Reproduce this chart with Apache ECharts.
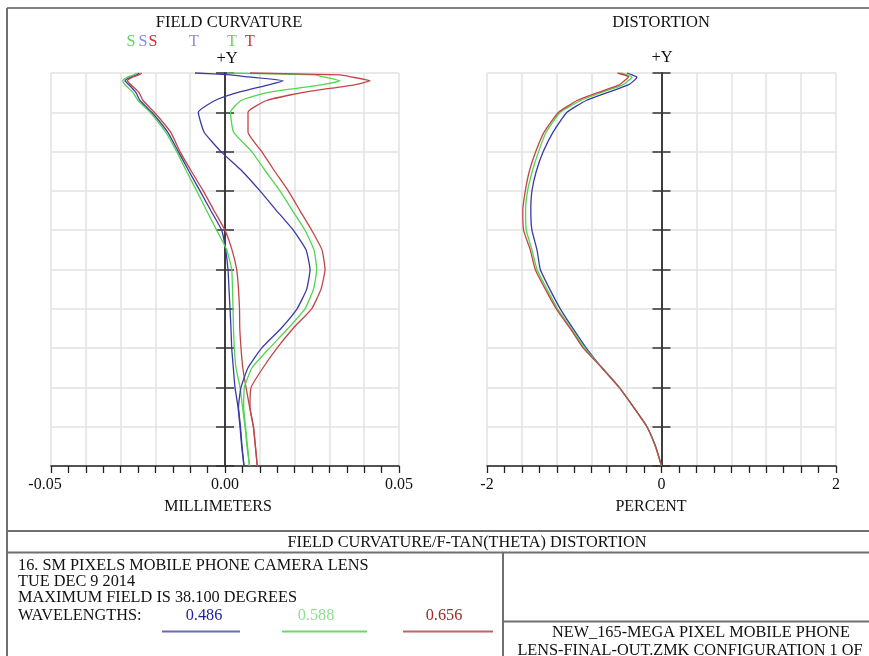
<!DOCTYPE html>
<html>
<head>
<meta charset="utf-8">
<script src="https://cdn.jsdelivr.net/npm/echarts@6/dist/echarts.min.js"></script>
<style>
html,body{margin:0;padding:0;background:#fff;}
#chart{width:869px;height:656px;}
</style>
</head>
<body>
<div id="chart"></div>
<script>
// relative field (0 = axis, 1 = maximum field 38.1 deg)
const fieldRel = [0, 0.05, 0.1, 0.15, 0.2, 0.25, 0.3, 0.35, 0.4, 0.45, 0.5, 0.55, 0.6, 0.65, 0.7, 0.75, 0.8, 0.85, 0.9, 0.93, 0.95, 0.97, 0.98, 0.99, 0.995, 1.0];

// field curvature (mm) - sagittal
const sagBlue  = [0.00546, 0.00480, 0.00431, 0.00374, 0.00287, 0.00239, 0.00193, 0.00172, 0.00144, 0.00115, 0.00086, 0.00020, -0.00095, -0.00408, -0.00718, -0.01034, -0.01342, -0.01652, -0.02106, -0.02443, -0.02557, -0.02759, -0.02874, -0.02701, -0.02543, -0.02463];
const sagGreen = [0.00704, 0.00632, 0.00575, 0.00503, 0.00431, 0.00316, 0.00267, 0.00244, 0.00230, 0.00216, 0.00193, 0.00049, -0.00239, -0.00529, -0.00813, -0.01106, -0.01388, -0.01710, -0.02155, -0.02500, -0.02644, -0.02874, -0.02940, -0.02787, -0.02618, -0.02537];
const sagRed   = [0.00928, 0.00871, 0.00813, 0.00707, 0.00603, 0.00511, 0.00460, 0.00425, 0.00417, 0.00388, 0.00336, 0.00201, 0.00000, -0.00316, -0.00624, -0.00966, -0.01293, -0.01566, -0.02032, -0.02356, -0.02471, -0.02701, -0.02807, -0.02644, -0.02477, -0.02394];
// field curvature (mm) - tangential
const tanBlue  = [0.00546, 0.00489, 0.00445, 0.00388, 0.00460, 0.00661, 0.01052, 0.01609, 0.02069, 0.02348, 0.02443, 0.02328, 0.01963, 0.01480, 0.01006, 0.00494, -0.00115, -0.00603, -0.00767, -0.00287, 0.00351, 0.01259, 0.01675, 0.00670, 0.00164, -0.00862];
const tanGreen = [0.00704, 0.00647, 0.00589, 0.00537, 0.00555, 0.00776, 0.01279, 0.01810, 0.02299, 0.02543, 0.02635, 0.02557, 0.02299, 0.01937, 0.01580, 0.01167, 0.00767, 0.00244, 0.00158, 0.00460, 0.01207, 0.02779, 0.03305, 0.02836, 0.02586, 0.00057];
const tanRed   = [0.00928, 0.00876, 0.00819, 0.00718, 0.00750, 0.01092, 0.01494, 0.01954, 0.02491, 0.02759, 0.02874, 0.02787, 0.02491, 0.02152, 0.01819, 0.01428, 0.01055, 0.00661, 0.00661, 0.01195, 0.02213, 0.03718, 0.04167, 0.03626, 0.03305, 0.00718];

// f-tan(theta) distortion (percent)
const distBlue  = [0, -0.069, -0.167, -0.321, -0.485, -0.683, -0.862, -1.015, -1.160, -1.281, -1.389, -1.427, -1.485, -1.498, -1.485, -1.435, -1.355, -1.241, -1.084, -0.863, -0.622, -0.381, -0.318, -0.282, -0.336, -0.396];
const distGreen = [0, -0.069, -0.167, -0.321, -0.485, -0.683, -0.880, -1.034, -1.191, -1.313, -1.427, -1.485, -1.550, -1.558, -1.535, -1.481, -1.409, -1.321, -1.160, -0.926, -0.691, -0.444, -0.381, -0.339, -0.393, -0.473];
const distRed   = [0, -0.069, -0.167, -0.321, -0.485, -0.683, -0.897, -1.047, -1.206, -1.332, -1.447, -1.504, -1.581, -1.590, -1.561, -1.515, -1.441, -1.344, -1.180, -0.966, -0.731, -0.485, -0.427, -0.378, -0.427, -0.504];

// axis tick labels
const fcTickLabels = [-0.05, 0, 0.05];
const fcTickText = ['-0.05', '0.00', '0.05'];
const distTickLabels = [-2, 0, 2];
const distTickText = ['-2', '0', '2'];

const wavelengths = ['0.486', '0.588', '0.656'];

const FONT = '"Liberation Serif", "Times New Roman", serif';
const C_BLUE = '#3a3aa6', C_GREEN = '#52d452', C_RED = '#c04646';
const TXT = '#111';

function pairs(xs) { return fieldRel.map((f, i) => [xs[i], f]); }
function lineSeries(name, xs, color, xi, yi) {
  return { name, type: 'line', data: pairs(xs), xAxisIndex: xi, yAxisIndex: yi,
    showSymbol: false, symbol: 'none', smooth: 0.15, clip: false,
    lineStyle: { color, width: 1.3 }, z: 5 };
}
function fmt(ticks, texts) {
  return function (v) {
    for (let i = 0; i < ticks.length; i++) {
      if (Math.abs(v - ticks[i]) < 1e-9) {
        // negative labels sit a little left of their tick, as in the reference
        return (ticks[i] < 0 && texts[i].length > 2) ? '{neg|' + texts[i] + '}' : texts[i];
      }
    }
    return '';
  };
}
const gridLine = { show: true, lineStyle: { color: '#e2e2e2', width: 1.5 } };
function xAx(grid, min, max, interval, labels, texts) {
  return { type: 'value', gridIndex: grid, min, max, interval, position: 'bottom',
    axisLine: { show: true, onZero: false, lineStyle: { color: '#222', width: 1.5 } },
    axisTick: { show: true, length: 7, lineStyle: { color: '#222', width: 1.3 } },
    minorTick: { show: true, splitNumber: 2, length: 7, lineStyle: { color: '#222', width: 1.3 } },
    splitLine: gridLine,
    axisLabel: { show: true, margin: 11, formatter: fmt(labels, texts), color: TXT, fontSize: 16, fontFamily: FONT,
      showMinLabel: true, showMaxLabel: true,
      rich: { neg: { color: TXT, fontSize: 16, fontFamily: FONT, padding: [0, 12, 0, 0] } } }
  };
}
function yAx(grid, xIdx, inside, showSplit) {
  return { type: 'value', gridIndex: grid, min: 0, max: 1, interval: 0.1, position: 'left',
    axisLine: { show: true, onZero: true, onZeroAxisIndex: xIdx, lineStyle: { color: '#333', width: 1.5 } },
    axisTick: { show: true, inside, length: 9, lineStyle: { color: '#333', width: 1.5 } },
    axisLabel: { show: false },
    splitLine: showSplit ? gridLine : { show: false }
  };
}
function txt(x, y, text, opts) {
  opts = opts || {};
  return { type: 'text', x, y, silent: true, z: 10,
    style: { text, fill: opts.fill || TXT, font: (opts.size || 16) + 'px ' + FONT,
      textAlign: opts.align || 'center', textVerticalAlign: 'middle' } };
}
function ln(x1, y1, x2, y2, color, w) {
  return { type: 'line', silent: true, z: 10, shape: { x1, y1, x2, y2 },
    style: { stroke: color || '#777', lineWidth: w || 2 } };
}

const chart = echarts.init(document.getElementById('chart'), null, { renderer: 'canvas' });
chart.setOption({
  animation: false,
  backgroundColor: '#fff',
  grid: [
    { left: 51, top: 73, width: 348, height: 393 },
    { left: 487, top: 73, width: 349, height: 393 }
  ],
  xAxis: [
    xAx(0, -0.05, 0.05, 0.01, fcTickLabels, fcTickText),
    xAx(1, -2, 2, 0.4, distTickLabels, distTickText)
  ],
  yAxis: [
    yAx(0, 0, false, true),
    yAx(0, 0, true, false),
    yAx(1, 1, false, true),
    yAx(1, 1, true, false)
  ],
  series: [
    lineSeries('S 0.486', sagBlue, C_BLUE, 0, 0),
    lineSeries('S 0.588', sagGreen, C_GREEN, 0, 0),
    lineSeries('S 0.656', sagRed, C_RED, 0, 0),
    lineSeries('T 0.486', tanBlue, C_BLUE, 0, 0),
    lineSeries('T 0.588', tanGreen, C_GREEN, 0, 0),
    lineSeries('T 0.656', tanRed, C_RED, 0, 0),
    lineSeries('D 0.486', distBlue, C_BLUE, 1, 2),
    lineSeries('D 0.588', distGreen, C_GREEN, 1, 2),
    lineSeries('D 0.656', distRed, C_RED, 1, 2)
  ],
  graphic: [
    // frame
    ln(7, 8, 869, 8, '#808080', 2),
    ln(7, 8, 7, 656, '#707070', 2),
    ln(7, 531, 869, 531, '#707070', 2),
    ln(7, 552.5, 869, 552.5, '#707070', 2),
    ln(503, 552.5, 503, 656, '#707070', 2),
    ln(503, 621.5, 869, 621.5, '#707070', 2),
    // titles
    txt(229, 23, 'FIELD CURVATURE', { size: 16.5 }),
    txt(661, 23, 'DISTORTION', { size: 16.5 }),
    txt(227, 59, '+Y', { size: 16.5 }),
    txt(662, 58, '+Y', { size: 16.5 }),
    // S/T legend letters
    txt(131, 42, 'S', { fill: '#5cd65c' }),
    txt(143, 42, 'S', { fill: '#8a8ae0' }),
    txt(153, 42, 'S', { fill: '#c83232' }),
    txt(194, 42, 'T', { fill: '#8a8ae0' }),
    txt(232, 42, 'T', { fill: '#5cd65c' }),
    txt(250, 42, 'T', { fill: '#c83232' }),
    // axis names
    txt(218, 507, 'MILLIMETERS'),
    txt(651, 507, 'PERCENT'),
    // info block
    txt(467, 543, 'FIELD CURVATURE/F-TAN(THETA) DISTORTION', { size: 16.3 }),
    txt(18, 566, '16. SM PIXELS MOBILE PHONE CAMERA LENS', { align: 'left', size: 16.3 }),
    txt(18, 582, 'TUE DEC 9 2014', { align: 'left', size: 16.3 }),
    txt(18, 598, 'MAXIMUM FIELD IS 38.100 DEGREES', { align: 'left', size: 16.3 }),
    txt(18, 616, 'WAVELENGTHS:', { align: 'left', size: 16.3 }),
    txt(204, 616, wavelengths[0], { fill: '#1c1c9c', size: 16.3 }),
    txt(316, 616, wavelengths[1], { fill: '#8ee08e', size: 16.3 }),
    txt(444, 616, wavelengths[2], { fill: '#a02828', size: 16.3 }),
    ln(162, 631.5, 240, 631.5, '#6a6ab4', 2),
    ln(282, 631.5, 367, 631.5, '#6ad86a', 2),
    ln(403, 631.5, 493, 631.5, '#c06464', 2),
    txt(701, 633, 'NEW_165-MEGA PIXEL MOBILE PHONE', { size: 16.3 }),
    txt(690, 651, 'LENS-FINAL-OUT.ZMK CONFIGURATION 1 OF', { size: 16.3 })
  ]
});
</script>
</body>
</html>
